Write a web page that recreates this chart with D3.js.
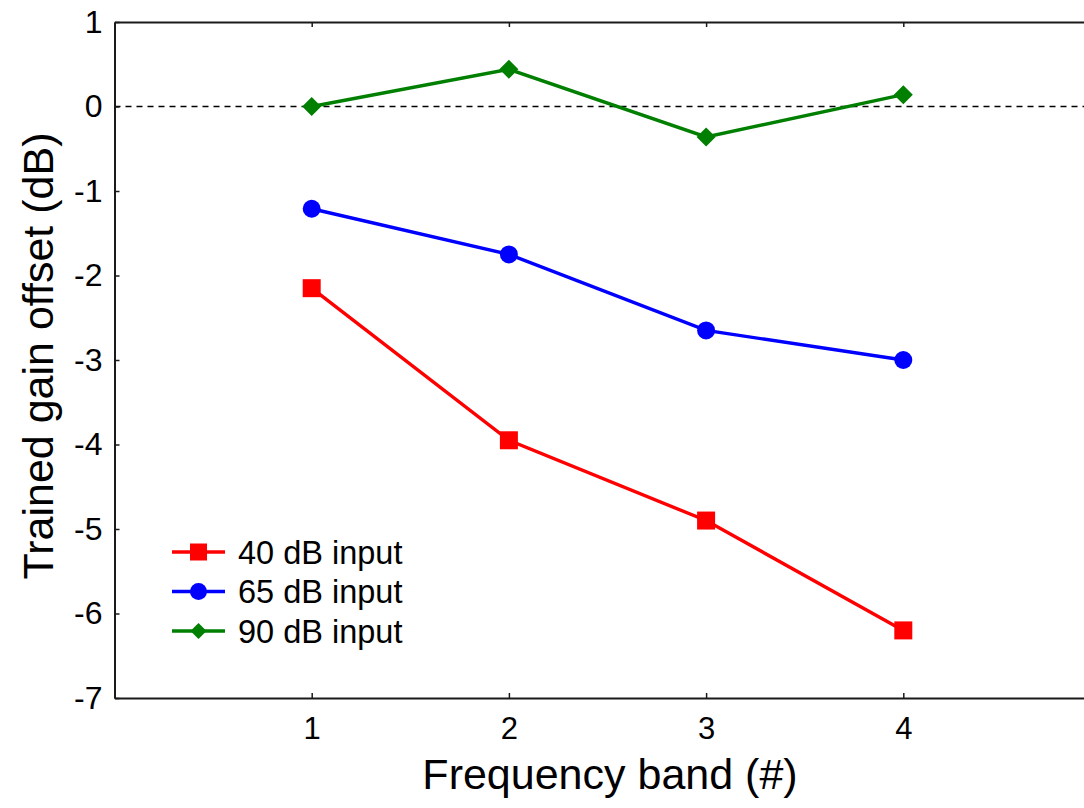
<!DOCTYPE html>
<html>
<head>
<meta charset="utf-8">
<script src="https://cdn.jsdelivr.net/npm/d3@7"></script>
<style>
  html, body { margin: 0; padding: 0; background: #fff; overflow: hidden; }
  text { font-family: "Liberation Sans", Arial, sans-serif; fill: #000; }
</style>
</head>
<body>
<svg id="chart" width="1084" height="808"></svg>
<script>
// ---- data ----
const bands = [1, 2, 3, 4];
const xTicks = [1, 2, 3, 4];
const yTicks = [1, 0, -1, -2, -3, -4, -5, -6, -7];
const seriesNames = ["40 dB input", "65 dB input", "90 dB input"];
const gain40 = [-2.15, -3.95, -4.9, -6.2];
const gain65 = [-1.21, -1.75, -2.65, -3.0];
const gain90 = [0.0, 0.44, -0.36, 0.14];
const xTitle = "Frequency band (#)";
const yTitle = "Trained gain offset (dB)";

// ---- layout ----
const svg = d3.select("#chart");
const plotLeft = 114.5, plotRight = 1100.5, plotTop = 22, plotBottom = 698;
const x = d3.scaleLinear().domain([0, 5]).range([plotLeft, plotRight]);
const y = d3.scaleLinear().domain([-7, 1]).range([plotBottom, plotTop]);

const series = [
  { name: seriesNames[0], values: gain40, color: "#ff0000", shape: "square" },
  { name: seriesNames[1], values: gain65, color: "#0000ff", shape: "circle" },
  { name: seriesNames[2], values: gain90, color: "#007f00", shape: "diamond" }
];

function symbolPath(shape, s) {
  if (shape === "square") return `M${-s},${-s}H${s}V${s}H${-s}Z`;
  if (shape === "diamond") return `M0,${-s}L${s},0L0,${s}L${-s},0Z`;
  return d3.arc()({innerRadius: 0, outerRadius: s, startAngle: 0, endAngle: 2 * Math.PI});
}
const markerSize = { square: 9, circle: 9, diamond: 9.5 };
const legendSize = { square: 8.5, circle: 8.5, diamond: 8 };

// zero reference line
svg.append("line")
  .attr("x1", x(0)).attr("x2", x(5))
  .attr("y1", y(0)).attr("y2", y(0))
  .attr("stroke", "#000").attr("stroke-width", 1.5)
  .attr("stroke-dasharray", "6,5");

// axes
const axisColor = "#1a1a1a";
function styleAxis(g, fontSize) {
  g.select(".domain").attr("stroke", axisColor).attr("stroke-width", 2);
  g.selectAll(".tick line").attr("stroke", axisColor).attr("stroke-width", 1.5);
  g.selectAll(".tick text").attr("font-size", fontSize)
    .attr("font-family", "'Liberation Sans', Arial, sans-serif").attr("fill", "#000");
}

const gx = svg.append("g").attr("transform", `translate(0,${plotBottom})`)
  .call(d3.axisBottom(x).tickValues(xTicks).tickSizeInner(-5).tickSizeOuter(0)
    .tickPadding(19).tickFormat(d => String(d)));
styleAxis(gx, 31);

const gt = svg.append("g").attr("transform", `translate(0,${plotTop})`)
  .call(d3.axisTop(x).tickValues(xTicks).tickSizeInner(-5).tickSizeOuter(0).tickFormat(""));
styleAxis(gt, 31);

const gy = svg.append("g").attr("transform", `translate(${plotLeft},0)`)
  .call(d3.axisLeft(y).tickValues(yTicks).tickSizeInner(-5).tickSizeOuter(0)
    .tickPadding(12).tickFormat(d => String(d)));
styleAxis(gy, 32);

// series lines and markers
const line = d3.line().x((d, i) => x(bands[i])).y(d => y(d));
series.forEach(s => {
  svg.append("path").datum(s.values)
    .attr("d", line).attr("fill", "none")
    .attr("stroke", s.color).attr("stroke-width", 3.4);
  svg.selectAll(null).data(s.values).enter().append("path")
    .attr("d", symbolPath(s.shape, markerSize[s.shape]))
    .attr("transform", (d, i) => `translate(${x(bands[i])},${y(d)})`)
    .attr("fill", s.color);
});

// legend
const legendX0 = 172, legendX1 = 225, legendTextX = 238;
const legendY = d3.scalePoint().domain(seriesNames).range([552, 631]);
series.forEach(s => {
  const ly = legendY(s.name);
  svg.append("line").attr("x1", legendX0).attr("x2", legendX1)
    .attr("y1", ly).attr("y2", ly)
    .attr("stroke", s.color).attr("stroke-width", 3.4);
  svg.append("path").attr("d", symbolPath(s.shape, legendSize[s.shape]))
    .attr("transform", `translate(${(legendX0 + legendX1) / 2},${ly})`)
    .attr("fill", s.color);
  svg.append("text").attr("x", legendTextX).attr("y", ly)
    .attr("dy", "0.36em").attr("font-size", 32.5).text(s.name);
});

// axis titles
svg.append("text")
  .attr("x", 610).attr("y", 789)
  .attr("text-anchor", "middle").attr("font-size", 43).text(xTitle);

svg.append("text")
  .attr("transform", `translate(53,356) rotate(-90)`)
  .attr("text-anchor", "middle").attr("font-size", 43).text(yTitle);
</script>
</body>
</html>
